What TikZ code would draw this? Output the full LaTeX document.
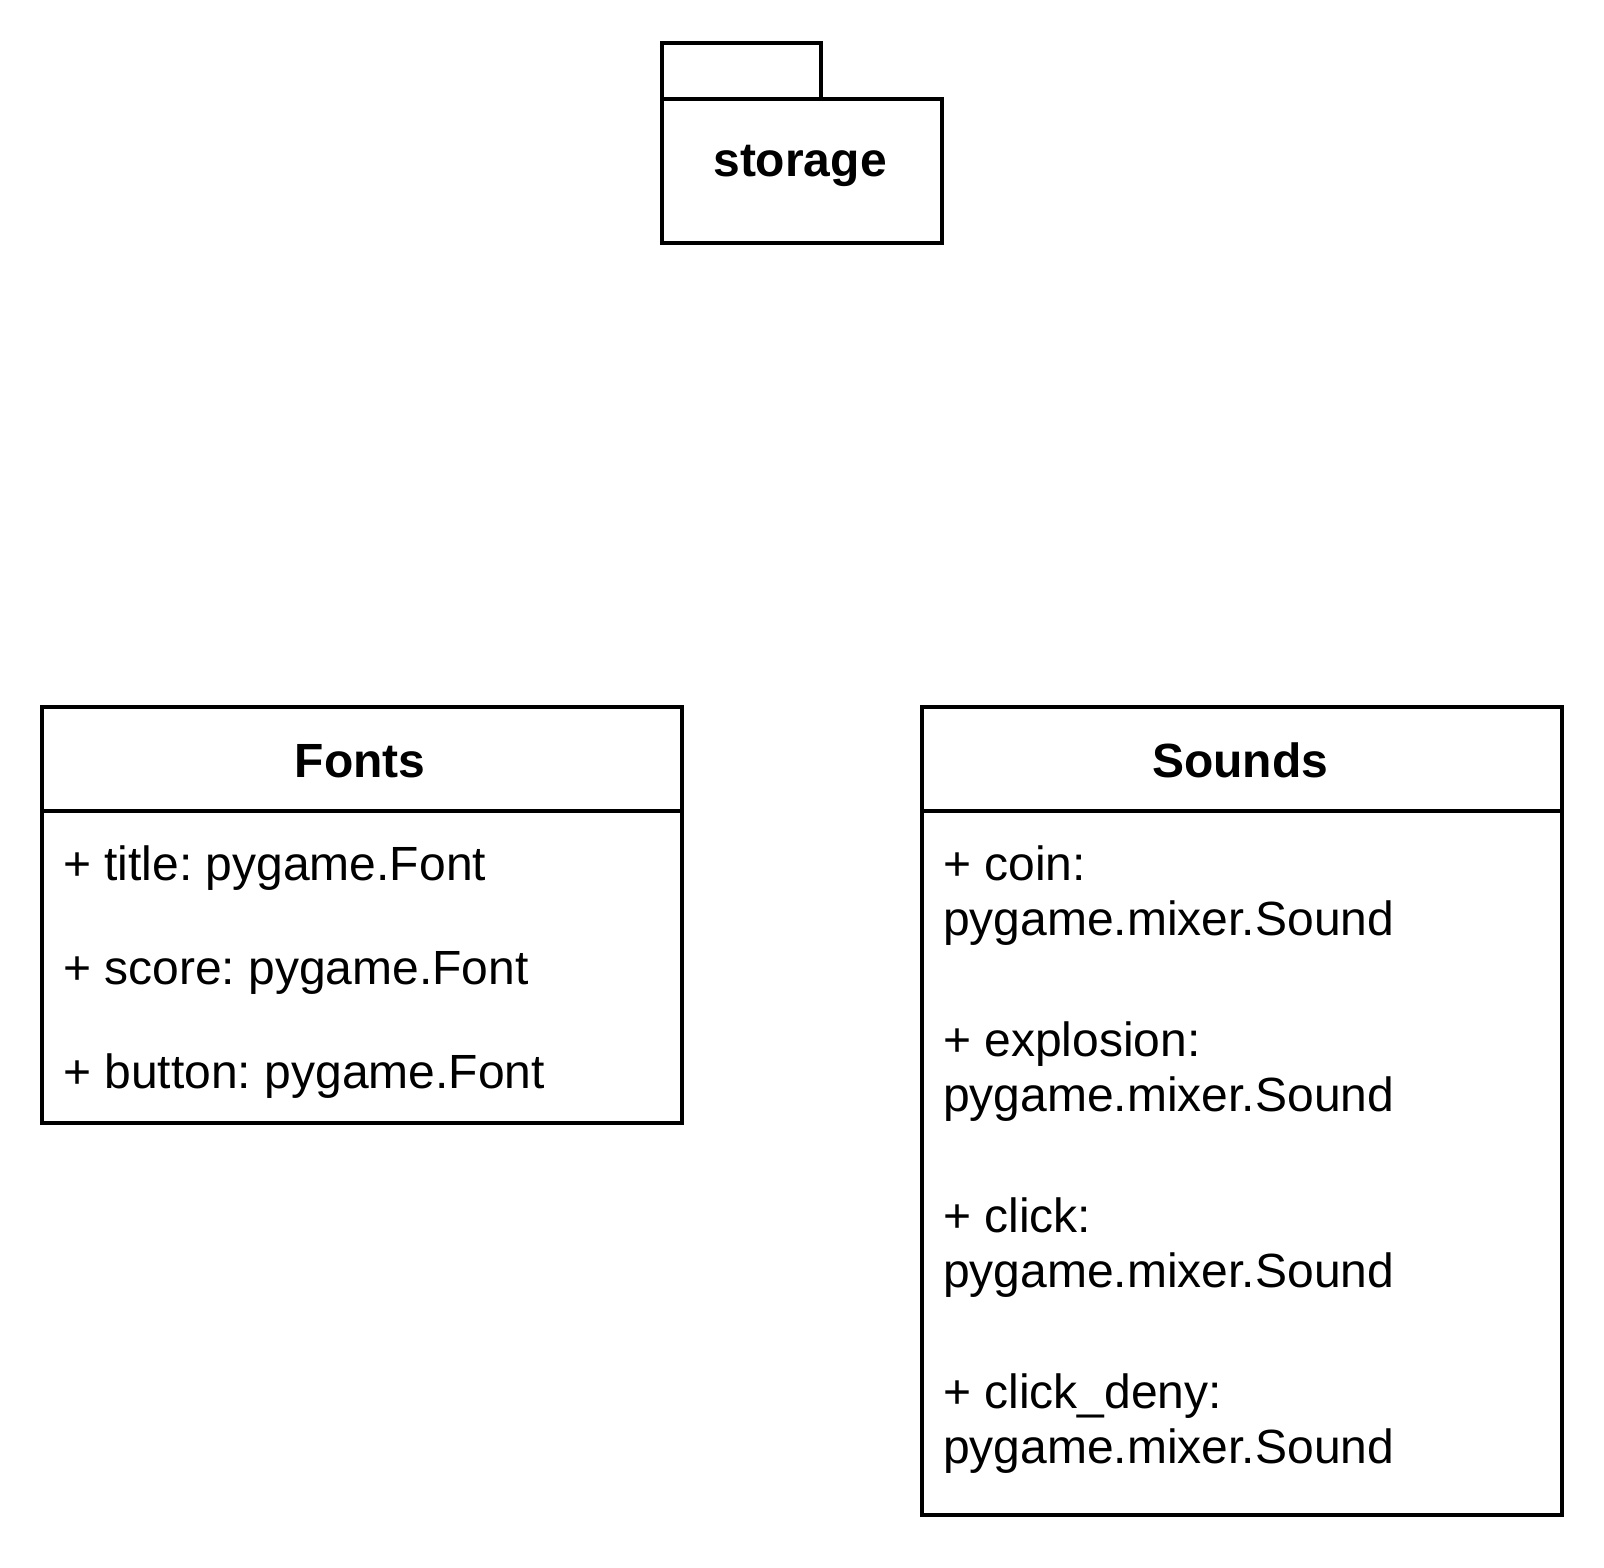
\documentclass[tikz,border=0pt]{standalone}
\usepackage{fontspec}
\setmainfont{Liberation Sans}
\frenchspacing
\begin{document}
\frenchspacing
\begin{tikzpicture}[x=1pt,y=-1pt,
  box/.style={draw, line width=4pt, inner sep=0pt, anchor=north west},
  txt/.style={anchor=base west, inner sep=0pt, font=\fontsize{48}{55}\selectfont},
  ttl/.style={anchor=base, inner sep=0pt, font=\fontsize{48}{55}\selectfont\bfseries}]
\useasboundingbox (0,0) rectangle (1604,1568);
% package
\node[box, minimum width=159pt, minimum height=56pt] (tab) at (660,41) {};
\node[box, minimum width=280pt, minimum height=144pt, fill=white] (pkg) at (660,97) {};
\node[ttl] (pkgname) at (800,176) {storage};
% Fonts class
\node[box, minimum width=640pt, minimum height=104pt] (fontshead) at (40,705) {};
\node[box, minimum width=640pt, minimum height=312pt] (fontsbody) at (40,809) {};
\node[ttl] (fontstitle) at (360,777) {Fonts};
\node[txt] (f1) at (63,880) {+ title: pygame.Font};
\node[txt] (f2) at (63,984) {+ score: pygame.Font};
\node[txt] (f3) at (63,1088) {+ button: pygame.Font};
% Sounds class
\node[box, minimum width=640pt, minimum height=104pt] (soundshead) at (920,705) {};
\node[box, minimum width=640pt, minimum height=704pt] (soundsbody) at (920,809) {};
\node[ttl] (soundstitle) at (1240,777) {Sounds};
\node[txt] (s1a) at (943,880) {+ coin:};
\node[txt] (s1b) at (943,935) {pygame.mixer.Sound};
\node[txt] (s2a) at (943,1056) {+ explosion:};
\node[txt] (s2b) at (943,1111) {pygame.mixer.Sound};
\node[txt] (s3a) at (943,1232) {+ click:};
\node[txt] (s3b) at (943,1287) {pygame.mixer.Sound};
\node[txt] (s4a) at (943,1408) {+ click\_deny:};
\node[txt] (s4b) at (943,1463) {pygame.mixer.Sound};
\end{tikzpicture}
\end{document}
